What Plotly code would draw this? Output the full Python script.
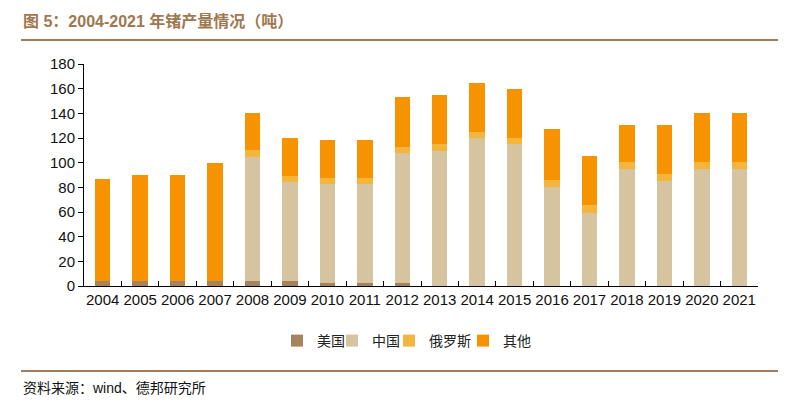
import plotly.graph_objects as go

years = [str(y) for y in range(2004, 2022)]
usa = [4, 4, 4, 4, 4, 4, 2.5, 2.5, 2.5, 0, 0, 0, 0, 0, 0, 0, 0, 0]
china = [0, 0, 0, 0, 101, 80.5, 80.5, 80.5, 105.5, 109.5, 120, 115, 80, 59.5, 94.6, 85, 94.6, 94.6]
russia = [0, 0, 0, 0, 5, 4.6, 4.6, 4.6, 4.7, 5.5, 5, 4.8, 6.3, 6.2, 6.2, 5.8, 5.7, 5.7]
others = [83, 86, 86, 95.5, 30, 30.6, 30.8, 30.8, 40.8, 40, 40, 40, 40.8, 40, 29.8, 39.8, 39.7, 39.7]

names = ["美国", "中国", "俄罗斯", "其他"]
colors = ["#A6835C", "#D5C49E", "#F4B53D", "#F79300"]
series = [usa, china, russia, others]
legend_ids = ["legend", "legend2", "legend3", "legend4"]
# page x of each legend marker centre in the reference
legend_marker_x = [296, 351, 408, 482]

OFF = 8  # default body margin of the html page
W, H = 798, 392
PL, PR, PT, PB = 84, 758, 64, 286  # plot area in page pixels
L, R, T = PL - OFF, W - (PR - OFF), PT - OFF
B = H - (PB - OFF)
pw, ph = W - L - R, H - T - B


def px(x):
    return (x - OFF - L) / pw


def py(y):
    return (H - B - (y - OFF)) / ph


fig = go.Figure()
for name, vals, col, lid in zip(names, series, colors, legend_ids):
    fig.add_trace(go.Bar(x=years, y=vals, name=name, legend=lid,
                         marker=dict(color=col, line=dict(width=0))))

legends = {}
for lid, mx in zip(legend_ids, legend_marker_x):
    legends[lid] = dict(orientation="h", x=px(mx - 19), xanchor="left", y=py(341), yanchor="middle",
                        font=dict(family="Noto Sans CJK SC", size=14, color="#222"),
                        itemwidth=30, bgcolor="rgba(0,0,0,0)", borderwidth=0)

brown = "#A57C5A"
fig.update_layout(
    width=W, height=H,
    margin=dict(l=L, r=R, t=T, b=B, autoexpand=False),
    paper_bgcolor="white", plot_bgcolor="white",
    barmode="stack", bargap=0.585,
    font=dict(family="Liberation Sans, Arial, Noto Sans CJK SC", size=15, color="#111"),
    showlegend=True,
    xaxis=dict(type="category", showline=True, linecolor="#000", linewidth=1,
               ticks="inside", ticklen=5, tickcolor="#000", tickson="boundaries",
               tickangle=0, automargin=False,
               tickfont=dict(size=15, color="#111"), showgrid=False, fixedrange=True),
    yaxis=dict(range=[0, 180], dtick=20, showline=True, linecolor="#000", linewidth=1,
               ticks="outside", ticklen=5, tickcolor="#000", showgrid=False, zeroline=False,
               automargin=False,
               tickfont=dict(size=15, color="#111"), fixedrange=True),
    shapes=[
        dict(type="line", xref="paper", yref="paper", x0=px(21), x1=px(778), y0=py(40), y1=py(40),
             line=dict(color=brown, width=2)),
        dict(type="line", xref="paper", yref="paper", x0=px(21), x1=px(778), y0=py(371), y1=py(371),
             line=dict(color=brown, width=2)),
    ],
    annotations=[
        dict(text="<b>图 5：2004-2021 年锗产量情况（吨）</b>", xref="paper", yref="paper",
             x=px(21), y=py(21), xanchor="left", yanchor="middle", showarrow=False,
             font=dict(family="Liberation Sans, Noto Sans CJK SC", size=16, color="#A07850")),
        dict(text="资料来源：wind、德邦研究所", xref="paper", yref="paper",
             x=px(21), y=py(388), xanchor="left", yanchor="middle", showarrow=False,
             font=dict(family="Liberation Sans, Noto Sans CJK SC", size=14, color="#111")),
    ],
    **legends,
)

fig.write_html("out.html")
